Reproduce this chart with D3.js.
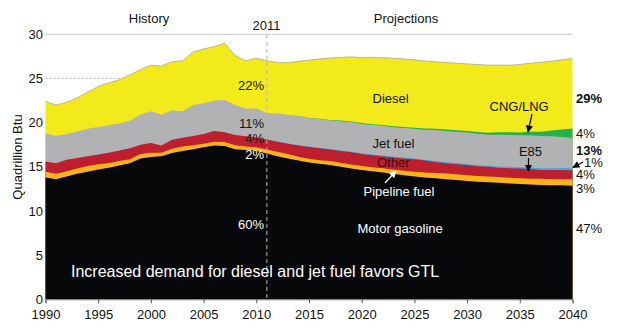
<!DOCTYPE html>
<html><head><meta charset="utf-8">
<script src="https://cdn.jsdelivr.net/npm/d3@7"></script>
<style>body{margin:0;background:#fff} svg{display:block;font-family:"Liberation Sans",Arial,Helvetica,sans-serif}</style>
</head><body><svg id="c" width="620" height="332"></svg>
<script>
const years = d3.range(1990, 2041);
const motorGasoline = [13.8,13.6,13.9,14.2,14.45,14.7,14.9,15.15,15.4,15.95,
  16.1,16.2,16.55,16.8,17.0,17.2,17.4,17.35,17.0,16.9,
  16.8,16.5,16.2,15.95,15.7,15.5,15.35,15.2,15.0,14.8,
  14.65,14.5,14.35,14.2,14.05,13.9,13.8,13.7,13.6,13.5,
  13.4,13.3,13.25,13.2,13.1,13.05,13.0,12.95,12.9,12.9,12.85];
const pipelineFuel = [0.65,0.6,0.6,0.6,0.65,0.6,0.5,0.5,0.45,0.5,
  0.5,0.4,0.5,0.5,0.45,0.4,0.45,0.45,0.45,0.4,
  0.4,0.45,0.5,0.5,0.45,0.4,0.4,0.45,0.45,0.45,
  0.45,0.45,0.5,0.5,0.5,0.55,0.55,0.6,0.65,0.65,
  0.65,0.65,0.65,0.65,0.65,0.65,0.65,0.7,0.7,0.7,0.75];
const other = [1.15,1.2,1.3,1.2,1.1,1.1,1.2,1.2,1.25,1.05,
  1.1,0.8,1.0,1.0,1.05,1.1,1.2,1.1,1.15,1.15,
  1.1,1.15,1.15,1.15,1.25,1.35,1.35,1.3,1.35,1.4,
  1.35,1.35,1.35,1.35,1.4,1.4,1.35,1.25,1.15,1.15,
  1.15,1.1,1.1,1.05,1.1,1.1,1.1,1.0,1.05,1.05,1.0];
const e85 = [0,0,0,0,0,0,0,0,0,0,
  0,0,0,0,0,0,0,0,0,0,
  0,0,0.02,0.03,0.04,0.05,0.06,0.06,0.07,0.07,
  0.08,0.08,0.09,0.09,0.1,0.1,0.1,0.11,0.11,0.12,
  0.12,0.13,0.13,0.14,0.15,0.16,0.17,0.18,0.2,0.22,0.25];
const jetFuel = [3.2,3.1,2.9,3.0,3.1,3.1,3.1,3.05,3.1,3.4,
  3.6,3.5,3.35,3.0,3.5,3.5,3.45,3.65,3.4,3.15,
  3.3,3.0,3.15,3.25,3.35,3.2,3.25,3.25,3.3,3.35,
  3.35,3.35,3.35,3.35,3.35,3.35,3.4,3.5,3.55,3.55,
  3.55,3.55,3.5,3.6,3.6,3.6,3.65,3.65,3.6,3.5,3.4];
const cngLng = [0,0,0,0,0,0,0,0,0,0,
  0,0,0,0,0,0,0,0,0,0,
  0,0,0,0,0,0.03,0.04,0.05,0.06,0.07,
  0.08,0.09,0.1,0.1,0.11,0.12,0.13,0.14,0.15,0.16,
  0.18,0.2,0.23,0.27,0.3,0.33,0.4,0.5,0.65,0.85,1.1];
const diesel = [3.6,3.5,3.6,3.8,4.15,4.6,4.8,4.95,5.2,5.1,
  5.2,5.5,5.5,5.7,6.0,6.15,6.1,6.45,5.6,5.4,
  5.7,5.9,5.8,5.9,6.15,6.55,6.75,7.0,7.15,7.3,
  7.4,7.55,7.6,7.7,7.7,7.7,7.65,7.6,7.6,7.6,
  7.6,7.65,7.65,7.6,7.6,7.7,7.75,7.85,7.85,7.9,7.9];
const yTicks = [0,5,10,15,20,25,30];
const xTicks = [1990,1995,2000,2005,2010,2015,2020,2025,2030,2035,2040];
const keys = ["motor","pipeline","other","e85","jet","cng","diesel"];
const colors = {motor:"#060809",pipeline:"#FDB515",other:"#BE1E2D",e85:"#3FA9E0",jet:"#B1B2B4",cng:"#22B14C",diesel:"#F2EA1B"};

const table = years.map((yr,i)=>({year:yr,motor:motorGasoline[i],pipeline:pipelineFuel[i],other:other[i],
  e85:e85[i],jet:jetFuel[i],cng:cngLng[i],diesel:diesel[i]}));

const svg = d3.select("#c");
const x = d3.scaleLinear().domain([1990,2040]).range([45.5,572.5]);
const y = d3.scaleLinear().domain([0,30]).range([299.3,34.3]);

// gridlines
svg.append("g").selectAll("line").data(yTicks.filter(t=>t>0)).join("line")
  .attr("x1",x(1990)).attr("x2",x(2040)).attr("y1",d=>y(d)).attr("y2",d=>y(d))
  .attr("stroke",d=>d===30?"#c8c8c8":"#bdbdbd").attr("stroke-width",1)
  .attr("stroke-dasharray",d=>d===30?null:"2,2");

const series = d3.stack().keys(keys)(table);
const definedFor = {e85: d=>d.data.year>=2011, cng: d=>d.data.year>=2014};
const layers = svg.append("g");
series.slice().reverse().forEach(s=>{
  const area = d3.area().x(d=>x(d.data.year)).y0(y(0)).y1(d=>y(d[1]));
  if (definedFor[s.key]) area.defined(definedFor[s.key]);
  layers.append("path").datum(s).attr("d",area).attr("fill",colors[s.key]);
});
// top outline
svg.append("path").datum(series[series.length-1])
  .attr("d",d3.line().x(d=>x(d.data.year)).y(d=>y(d[1])))
  .attr("fill","none").attr("stroke","#a8a8a0").attr("stroke-width",0.8);

// 2011 dashed line
svg.append("line").attr("x1",x(2011)).attr("x2",x(2011)).attr("y1",35).attr("y2",y(0))
  .attr("stroke","#b4b4b4").attr("stroke-width",1).attr("stroke-dasharray","4,3");

// y axis labels
svg.append("g").selectAll("text").data(yTicks).join("text")
  .attr("x",43).attr("y",d=>y(d)+4.6).attr("text-anchor","end")
  .attr("font-size",13).attr("fill","#111").text(d=>d);

// x axis
const xAxis = svg.append("g").attr("transform",`translate(0,${y(0)})`)
  .call(d3.axisBottom(x).tickValues(xTicks).tickFormat(d3.format("d")).tickSize(4).tickPadding(6));
xAxis.select(".domain").attr("stroke","#888");
xAxis.selectAll(".tick line").attr("stroke","#555");
xAxis.selectAll("text").attr("font-size",13).attr("fill","#111")
  .attr("font-family","'Liberation Sans',Arial,sans-serif");

// y axis title
svg.append("text").attr("transform","translate(22,157) rotate(-90)").attr("text-anchor","middle")
  .attr("font-size",13).attr("fill","#111").text("Quadrillion Btu");

// header labels
function txt(t,xx,yy,opt={}){
  return svg.append("text").attr("x",xx).attr("y",yy).text(t)
    .attr("font-size",opt.size||13).attr("fill",opt.fill||"#111")
    .attr("text-anchor",opt.anchor||"start").attr("font-weight",opt.weight||"normal");
}
txt("History",149,23,{anchor:"middle"});
txt("2011",266.5,30,{anchor:"middle"});
txt("Projections",406,23,{anchor:"middle"});

// 2011 shares
txt("22%",264,90,{anchor:"end"});
txt("11%",264,128,{anchor:"end"});
txt("4%",264,143,{anchor:"end",fill:"#3a0b0b"});
txt("2%",264,159,{anchor:"end",fill:"#fff"});
txt("60%",264,229,{anchor:"end",fill:"#fff"});

// series labels
txt("Diesel",372.5,102.7);
txt("CNG/LNG",489.5,111);
txt("Jet fuel",372.5,148);
txt("E85",530.5,155.5,{anchor:"middle"});
txt("Other",377,166.7,{fill:"#3a0b0b"});
txt("Pipeline fuel",363.5,196,{fill:"#fff"});
txt("Motor gasoline",357.5,233,{fill:"#fff"});
txt("Increased demand for diesel and jet fuel favors GTL",71,277,{size:16,fill:"#fff"});

// right labels
txt("29%",576,102.7,{weight:"bold"});
txt("4%",576,137.7);
txt("13%",576,155,{weight:"bold"});
txt("1%",584,167);
txt("4%",576,179.3);
txt("3%",576,193.3);
txt("47%",576,233.3);

// arrows
const defs = svg.append("defs");
["#000","#fff"].forEach((c,i)=>{
  defs.append("marker").attr("id","ah"+i).attr("viewBox","0 0 10 10").attr("refX",9).attr("refY",5)
    .attr("markerWidth",6).attr("markerHeight",6).attr("orient","auto")
    .append("path").attr("d","M0,0L10,5L0,10z").attr("fill",c);
});
function arrow(x1,y1,x2,y2,i){
  svg.append("line").attr("x1",x1).attr("y1",y1).attr("x2",x2).attr("y2",y2)
    .attr("stroke",i?"#fff":"#000").attr("stroke-width",1.2).attr("marker-end",`url(#ah${i})`);
}
arrow(532,114,528,132,0);
arrow(528.5,158,528.5,171,0);
arrow(583,162,573,167.5,0);
arrow(385,183,396,171,1);
</script></body></html>
